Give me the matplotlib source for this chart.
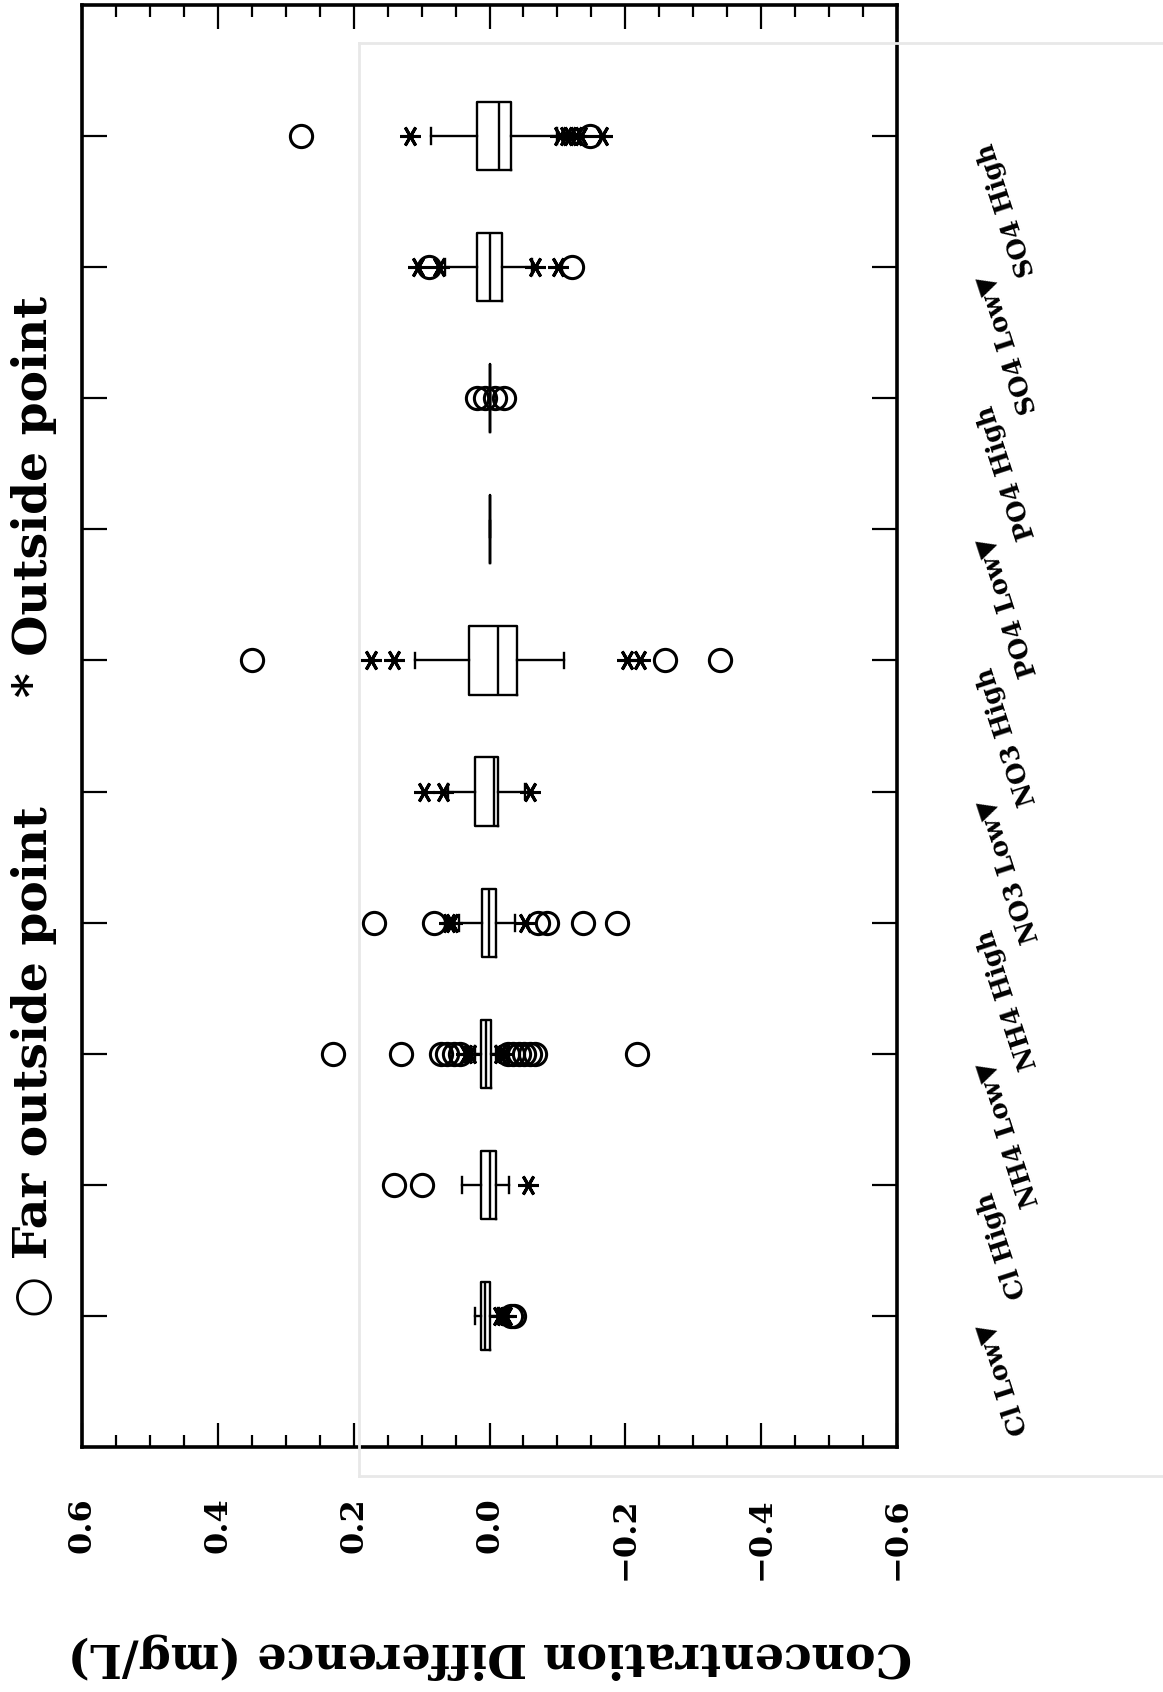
import matplotlib
matplotlib.use("Agg")
import matplotlib.pyplot as plt
from matplotlib.ticker import MultipleLocator
from matplotlib.lines import Line2D

plt.rcParams['font.family'] = ['DejaVu Serif', 'DejaVu Sans']
plt.rcParams['font.weight'] = 'bold'
plt.rcParams['axes.labelweight'] = 'bold'

# categories from bottom (Cl Low) to top (SO4 High)
categories = ["Cl Low", "Cl High", "NH4 Low", "NH4 High", "NO3 Low",
              "NO3 High", "PO4 Low", "PO4 High", "SO4 Low", "SO4 High"]
labels = ["Cl Low\u25bc", "Cl High", "NH4 Low\u25bc", "NH4 High", "NO3 Low\u25bc",
          "NO3 High", "PO4 Low\u25bc", "PO4 High", "SO4 Low\u25bc", "SO4 High"]

med = [0.006, 0.0, 0.005, 0.001, -0.006, -0.012, 0.0, 0.0, 0.0, -0.014]
q1 = [0.0, -0.010, -0.002, -0.010, -0.012, -0.041, 0.0, 0.0, -0.018, -0.032]
q3 = [0.012, 0.012, 0.012, 0.011, 0.021, 0.030, 0.0, 0.0, 0.019, 0.018]
whislo = [-0.012, -0.028, -0.010, -0.037, -0.052, -0.109, 0.0, 0.0, -0.062, -0.099]
whishi = [0.022, 0.041, 0.022, 0.045, 0.061, 0.109, 0.0, 0.0, 0.066, 0.086]

# outside points (asterisks)
outside = [
    [-0.014, -0.020, -0.025],
    [-0.057],
    [0.035, 0.028, -0.015, -0.022],
    [0.060, 0.055, -0.052],
    [0.097, 0.068, -0.059],
    [0.174, 0.140, -0.202, -0.222],
    [],
    [],
    [0.105, 0.074, -0.067, -0.101],
    [0.117, -0.104, -0.112, -0.119, -0.127, -0.134, -0.165],
]
# far outside points (circles)
far = [
    [-0.031, -0.036],
    [0.140, 0.100],
    [0.230, 0.130, 0.071, 0.062, 0.053, 0.044,
     -0.027, -0.035, -0.043, -0.051, -0.059, -0.067, -0.217],
    [0.170, 0.081, -0.072, -0.084, -0.138, -0.188],
    [],
    [0.349, -0.259, -0.340],
    [],
    [0.019, 0.006, -0.008, -0.021],
    [0.089, -0.121],
    [0.278, -0.148],
]

xticks = [0.6, 0.4, 0.2, 0.0, -0.2, -0.4, -0.6]
xticklabels = ["0.6", "0.4", "0.2", "0.0", "\u22120.2", "\u22120.4", "\u22120.6"]

W, H = 1163, 1692
fig = plt.figure(figsize=(W / 100, H / 100), dpi=100)

# faint bleed-through frame from the back of the page
for xs, ys in [([359, 359], [43, 1476]), ([359, W], [43, 43]), ([359, W], [1476, 1476])]:
    fig.add_artist(Line2D([x / W for x in xs], [1 - y / H for y in ys],
                          transform=fig.transFigure, color='#e8e8e8', lw=2))

ax = fig.add_axes([82 / W, 1 - 1447 / H, 815 / W, 1442 / H])
pos = list(range(1, len(categories) + 1))

stats = []
for i, name in enumerate(categories):
    stats.append(dict(label=name, med=med[i], q1=q1[i], q3=q3[i],
                      whislo=whislo[i], whishi=whishi[i], fliers=[]))

lp = dict(color='k', lw=1.7)
ax.bxp(stats, positions=pos, widths=0.52, orientation='horizontal',
       showfliers=False, capwidths=0.12, boxprops=lp, whiskerprops=lp,
       capprops=lp, medianprops=lp)

for i, p in enumerate(pos):
    if outside[i]:
        ax.plot(outside[i], [p] * len(outside[i]), ls='none', marker=(6, 2, 90),
                ms=15, mec='k', mew=2.2)
    if far[i]:
        ax.plot(far[i], [p] * len(far[i]), ls='none', marker='o', mfc='none',
                ms=16, mec='k', mew=2.2)

ax.set_xlim(0.6, -0.6)
ax.set_ylim(0, 11)
ax.set_xticks(xticks)
ax.set_xticklabels(xticklabels)
ax.xaxis.set_minor_locator(MultipleLocator(0.05))
ax.set_yticks(pos)
ax.set_yticklabels([])
ax.tick_params(axis='x', which='major', direction='in', top=True, bottom=True,
               length=17, width=1.6, labelsize=23, labelrotation=90, pad=36)
ax.tick_params(axis='x', which='minor', direction='in', top=True, bottom=True,
               length=8.5, width=1.6)
ax.tick_params(axis='y', direction='in', left=True, right=True, length=18, width=1.6)
for s in ax.spines.values():
    s.set_linewidth(2.6)

ax.set_xlabel("Concentration Difference (mg/L)", fontsize=33, fontweight='bold',
              rotation=180)
ax.xaxis.set_label_coords(0.5, (1447 - 1656) / 1442)
ax.xaxis.label.set_va('center')

# category labels to the right of the frame
for i, p in enumerate(pos):
    ax.text((985 - 82) / 815, p - 0.06, labels[i], transform=ax.get_yaxis_transform(),
            rotation=108, rotation_mode='anchor', ha='right', va='center', fontsize=18.5)

# legend line along the left side
fig.text(34 / W, 1 - 1062 / H, "\u25cb Far outside point", rotation=90,
         ha='center', va='center', fontsize=34)
fig.text(34 / W, 1 - 496 / H, "* Outside point", rotation=90,
         ha='center', va='center', fontsize=34)

fig.savefig("out.png", dpi=100)
